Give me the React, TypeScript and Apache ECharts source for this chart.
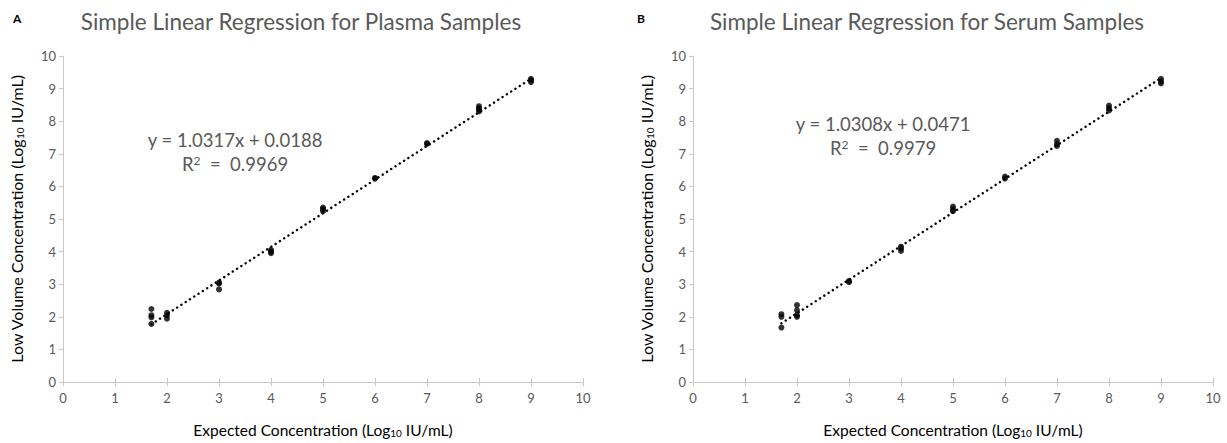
import React, { useEffect, useRef } from "react";
import * as echarts from "echarts";

const titles = ["Simple Linear Regression for Plasma Samples", "Simple Linear Regression for Serum Samples"];
const panelLetters = ["A", "B"];
const slopes = [1.0317, 1.0308];
const intercepts = [0.0188, 0.0471];
const rSquared = ["0.9969", "0.9979"];
const trendRange = [1.7, 9];

const plasmaX = [1.7, 1.7, 1.7, 1.7, 2, 2, 2, 3, 3, 3, 4, 4, 4, 5, 5, 5, 6, 6, 7, 7, 8, 8, 8, 8, 9, 9, 9];
const plasmaY = [2.24, 2.05, 1.98, 1.78, 2.12, 2.04, 1.94, 3.05, 3.02, 2.84, 4.05, 4.0, 3.95, 5.35, 5.3, 5.24, 6.26, 6.24, 7.33, 7.3, 8.46, 8.4, 8.35, 8.3, 9.3, 9.25, 9.2];
const serumX = [1.7, 1.7, 1.7, 2, 2, 2, 2, 3, 3, 4, 4, 4, 5, 5, 5, 6, 6, 7, 7, 7, 8, 8, 8, 9, 9, 9];
const serumY = [2.08, 2.0, 1.67, 2.36, 2.2, 2.05, 2.0, 3.1, 3.06, 4.15, 4.1, 4.02, 5.38, 5.3, 5.24, 6.3, 6.24, 7.4, 7.3, 7.24, 8.48, 8.4, 8.33, 9.3, 9.22, 9.16];

const xTicks = ["0", "1", "2", "3", "4", "5", "6", "7", "8", "9", "10"];

const FONT = "Lato, 'Open Sans', sans-serif";
const GRAY = "#595959";
const AXIS = "#c8c8c8";

export default function App() {
  const ref = useRef<HTMLDivElement>(null);
  useEffect(() => {
    if (!ref.current) return;
    const chart = echarts.init(ref.current, undefined, { renderer: "svg" });
    const gridLefts = [63, 693];
    const grids = gridLefts.map((l) => ({ left: l, top: 56, width: 520, height: 331 }));
    const xAxes: any[] = [];
    const yAxes: any[] = [];
    const subRich = { sub: { fontSize: 10, verticalAlign: "bottom", padding: [7, 0, 0, 0], fontFamily: FONT, color: "#000" } };
    [0, 1].forEach((i) => {
      xAxes.push({
        type: "value", gridIndex: i, min: 0, max: 10, interval: 1,
        axisLine: { show: true, lineStyle: { color: AXIS, width: 1 } },
        axisTick: { show: true, inside: false, length: 4, lineStyle: { color: AXIS } },
        axisLabel: { color: GRAY, fontSize: 13, fontFamily: FONT, margin: 9, formatter: (v: number) => xTicks[Math.round(v)] },
        splitLine: { show: false },
        name: "Expected Concentration (Log{sub|10} IU/mL)",
        nameLocation: "middle", nameGap: 39,
        nameTextStyle: { color: "#000", fontSize: 15.5, fontFamily: FONT, rich: subRich },
      });
      xAxes.push({
        type: "value", gridIndex: i, min: 0, max: 10, interval: 1, position: "bottom",
        axisLine: { show: false }, axisTick: { show: true, inside: true, length: 4, lineStyle: { color: AXIS } },
        axisLabel: { show: false }, splitLine: { show: false },
      });
      yAxes.push({
        type: "value", gridIndex: i, min: 0, max: 10, interval: 1,
        axisLine: { show: true, lineStyle: { color: AXIS, width: 1 } },
        axisTick: { show: true, inside: false, length: 4, lineStyle: { color: AXIS } },
        axisLabel: { color: GRAY, fontSize: 13, fontFamily: FONT, margin: 7 },
        splitLine: { show: false },
        name: "Low Volume Concentration (Log{sub|10} IU/mL)",
        nameLocation: "middle", nameGap: 38,
        nameTextStyle: { color: "#000", fontSize: 16, fontFamily: FONT, rich: subRich },
      });
    });
    const datasets = [
      plasmaX.map((x, k) => [x, plasmaY[k]]),
      serumX.map((x, k) => [x, serumY[k]]),
    ];
    const series: any[] = [];
    [0, 1].forEach((i) => {
      series.push({
        type: "line", xAxisIndex: i * 2, yAxisIndex: i, symbol: "none",
        data: trendRange.map((x) => [x, slopes[i] * x + intercepts[i]]),
        lineStyle: { color: "#000", width: 2.4, type: [0.1, 5], cap: "round" },
        silent: true, z: 1,
      });
      series.push({
        type: "scatter", xAxisIndex: i * 2, yAxisIndex: i, symbol: "circle", symbolSize: 6,
        itemStyle: { color: "#000" }, data: datasets[i], z: 2,
      });
    });
    const eqPos = [[235, 140, 164], [883, 124, 148]];
    const graphic: any[] = [];
    [0, 1].forEach((i) => {
      graphic.push({
        type: "text", x: eqPos[i][0], y: eqPos[i][1],
        style: { text: `y = ${slopes[i].toFixed(4)}x + ${intercepts[i].toFixed(4)}`, fill: GRAY, font: `18.5px ${FONT}`, textAlign: "center", textVerticalAlign: "middle" },
      });
      graphic.push({
        type: "text", x: eqPos[i][0], y: eqPos[i][2],
        style: {
          text: `R{sup|2}  =  ${rSquared[i]}`, fill: GRAY, font: `18.5px ${FONT}`, textAlign: "center", textVerticalAlign: "middle",
          rich: { sup: { fontSize: 12, verticalAlign: "top", padding: [0, 0, 7, 0], fill: GRAY, fontFamily: FONT } },
        },
      });
      graphic.push({
        type: "text", x: i === 0 ? 13 : 637, y: 18,
        style: { text: panelLetters[i], fill: "#000", font: `bold 12px ${FONT}`, textVerticalAlign: "middle" },
      });
    });
    chart.setOption({
      animation: false,
      backgroundColor: "#fff",
      title: [
        { text: titles[0], left: 296, top: 5, textAlign: "center", textStyle: { color: GRAY, fontSize: 22.5, fontWeight: "normal", fontFamily: FONT } },
        { text: titles[1], left: 922, top: 5, textAlign: "center", textStyle: { color: GRAY, fontSize: 22.5, fontWeight: "normal", fontFamily: FONT } },
      ],
      grid: grids,
      xAxis: xAxes,
      yAxis: yAxes,
      series,
      graphic,
    });
    return () => chart.dispose();
  }, []);
  return <div ref={ref} style={{ position: "fixed", left: 0, top: 0, width: 1227, height: 443 }} />;
}
